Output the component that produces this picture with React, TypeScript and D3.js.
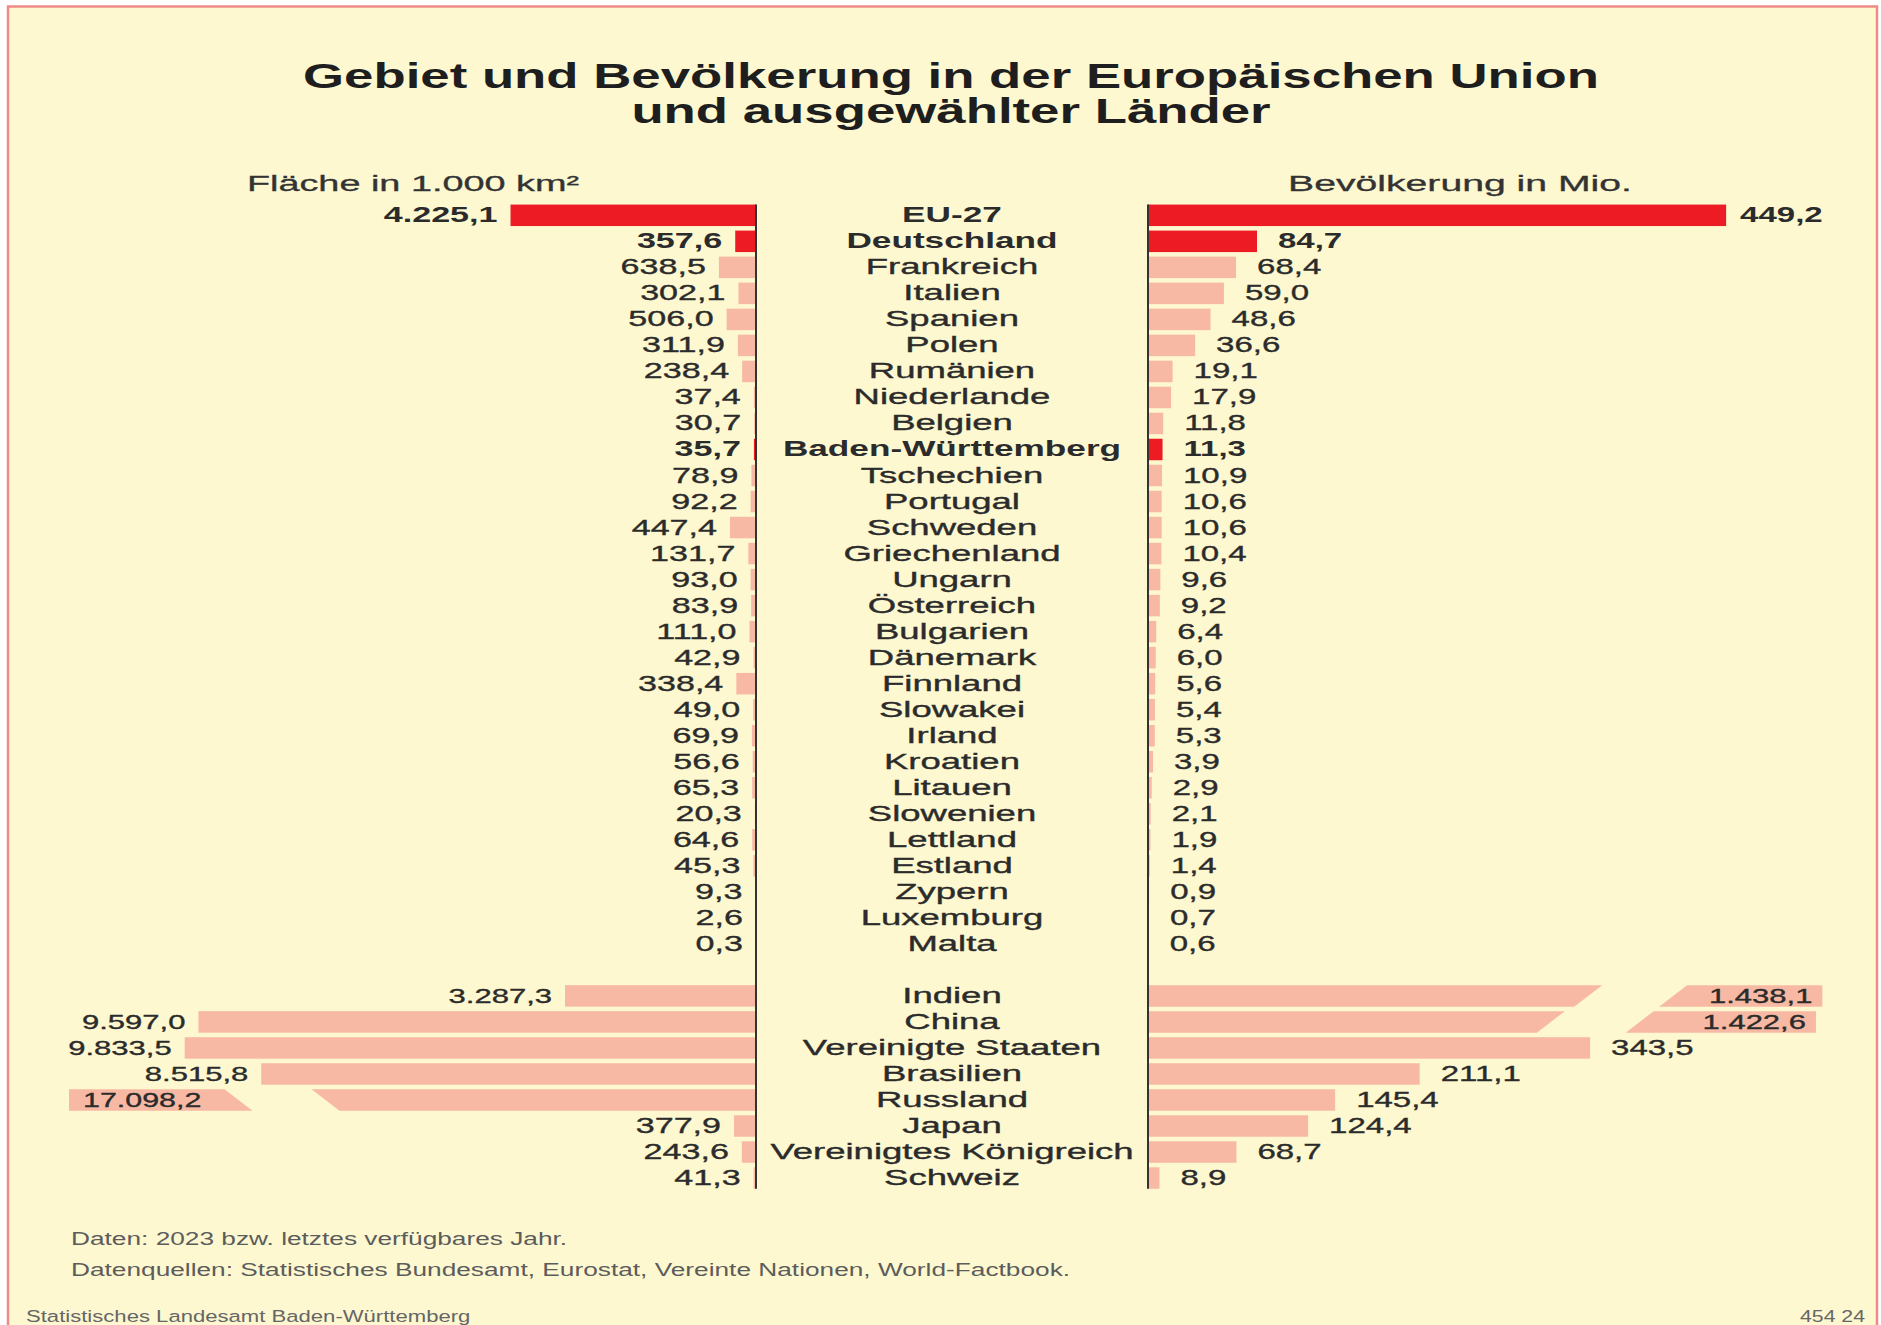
import React from "react";
import * as d3 from "d3";

// ---------------- DATA ----------------
const euCountries = [
  "EU-27", "Deutschland", "Frankreich", "Italien", "Spanien", "Polen", "Rumänien",
  "Niederlande", "Belgien", "Baden-Württemberg", "Tschechien", "Portugal", "Schweden",
  "Griechenland", "Ungarn", "Österreich", "Bulgarien", "Dänemark", "Finnland", "Slowakei",
  "Irland", "Kroatien", "Litauen", "Slowenien", "Lettland", "Estland", "Zypern",
  "Luxemburg", "Malta",
];
const euArea = [
  4225.1, 357.6, 638.5, 302.1, 506.0, 311.9, 238.4, 37.4, 30.7, 35.7, 78.9, 92.2, 447.4,
  131.7, 93.0, 83.9, 111.0, 42.9, 338.4, 49.0, 69.9, 56.6, 65.3, 20.3, 64.6, 45.3, 9.3,
  2.6, 0.3,
];
const euPopulation = [
  449.2, 84.7, 68.4, 59.0, 48.6, 36.6, 19.1, 17.9, 11.8, 11.3, 10.9, 10.6, 10.6, 10.4,
  9.6, 9.2, 6.4, 6.0, 5.6, 5.4, 5.3, 3.9, 2.9, 2.1, 1.9, 1.4, 0.9, 0.7, 0.6,
];
const worldCountries = [
  "Indien", "China", "Vereinigte Staaten", "Brasilien", "Russland", "Japan",
  "Vereinigtes Königreich", "Schweiz",
];
const worldArea = [3287.3, 9597.0, 9833.5, 8515.8, 17098.2, 377.9, 243.6, 41.3];
const worldPopulation = [1438.1, 1422.6, 343.5, 211.1, 145.4, 124.4, 68.7, 8.9];

const highlighted = ["EU-27", "Deutschland", "Baden-Württemberg"];

// broken (axis-break) bars, in data units: where the bar is cut, where it resumes, where it ends
const areaBreaks = [{ country: "Russland", cut: 7410, resume: 8907, end: 11824 }];
const populationBreaks = [
  { country: "Indien", cut: 342, resume: 408, end: 524 },
  { country: "China", cut: 313, resume: 382, end: 519 },
];

const titleLines = [
  "Gebiet und Bevölkerung in der Europäischen Union",
  "und ausgewählter Länder",
];
const areaHeader = "Fläche in 1.000 km²";
const populationHeader = "Bevölkerung in Mio.";
const footnotes = [
  "Daten: 2023 bzw. letztes verfügbares Jahr.",
  "Datenquellen: Statistisches Bundesamt, Eurostat, Vereinte Nationen, World-Factbook.",
];
const sourceLeft = "Statistisches Landesamt Baden-Württemberg";
const sourceRight = "454 24";

// ---------------- LAYOUT / STYLE ----------------
const W = 1881;
const H = 1325;
const FONT = "'Liberation Sans', Arial, Helvetica, sans-serif";
const INK = "#2b2b2b";
const RED = "#ED1C24";
const SALMON = "#F8B9A4";
const BG = "#FDF8D0";
const BORDER = "#F08A86";

const AXIS_L = 756;
const AXIS_R = 1148;
const CENTER_X = 952;
const ROW_TOP = 202.3;
const ROW_STEP = 26.02;
const SLANT = 28;

const locale = d3.formatLocale({ decimal: ",", thousands: ".", grouping: [3], currency: ["", " €"] });
const fmt = locale.format(",.1f");

type Row = { name: string; area: number; pop: number; world: boolean } | null;

export default function App() {
  const rows: Row[] = [
    ...euCountries.map((name, i) => ({ name, area: euArea[i], pop: euPopulation[i], world: false })),
    null,
    ...worldCountries.map((name, i) => ({ name, area: worldArea[i], pop: worldPopulation[i], world: true })),
  ];
  const keys = rows.map((r, i) => (r ? r.name : `gap-${i}`));

  const pad = 1 - 21.5 / ROW_STEP;
  const y = d3
    .scaleBand<string>()
    .domain(keys)
    .range([ROW_TOP, ROW_TOP + ROW_STEP * keys.length])
    .paddingInner(pad)
    .paddingOuter(pad / 2);
  const bw = y.bandwidth();

  const xArea = d3.scaleLinear().domain([0, 10000]).range([AXIS_L, AXIS_L - 581]);
  const xPop = d3.scaleLinear().domain([0, 100]).range([AXIS_R, AXIS_R + 128.7]);

  const txt = (
    s: string,
    x: number,
    yy: number,
    opts: { size?: number; bold?: boolean; anchor?: string; sx?: number; fill?: string; key?: string; thick?: number }
  ) => {
    const fill = opts.fill ?? INK;
    return (
      <text
        key={opts.key}
        transform={`translate(${x},${yy}) scale(${opts.sx ?? 1.62},1)`}
        textAnchor={opts.anchor ?? "start"}
        fontFamily={FONT}
        fontSize={opts.size ?? 22}
        fontWeight={opts.bold ? "bold" : "normal"}
        fill={fill}
        stroke={opts.thick ? fill : "none"}
        strokeWidth={opts.thick ?? 0}
      >
        {s}
      </text>
    );
  };

  const lastKey = keys[keys.length - 1];
  const axisTop = y(keys[0])!;
  const axisBottom = y(lastKey)! + bw;

  const marks: React.ReactNode[] = [];
  rows.forEach((r, i) => {
    if (!r) return;
    const top = y(keys[i])!;
    const bottom = top + bw;
    const cy = top + bw / 2;
    const base = cy + 7;
    const hl = highlighted.includes(r.name);
    const color = hl ? RED : SALMON;
    const thick = hl ? 0 : 0.35;

    // ---- left: area
    const aBreak = areaBreaks.find((b) => b.country === r.name);
    if (aBreak) {
      const xc = xArea(aBreak.cut);
      const xr = xArea(aBreak.resume);
      const xe = xArea(aBreak.end);
      const p1 = d3.path();
      p1.moveTo(AXIS_L, top);
      p1.lineTo(xc - SLANT / 2, top);
      p1.lineTo(xc + SLANT / 2, bottom);
      p1.lineTo(AXIS_L, bottom);
      p1.closePath();
      const p2 = d3.path();
      p2.moveTo(xe, top);
      p2.lineTo(xr - SLANT / 2, top);
      p2.lineTo(xr + SLANT / 2, bottom);
      p2.lineTo(xe, bottom);
      p2.closePath();
      marks.push(<path key={`a1${i}`} d={p1.toString()} fill={color} />);
      marks.push(<path key={`a2${i}`} d={p2.toString()} fill={color} />);
      marks.push(txt(fmt(r.area), xe + 14, base, { key: `al${i}`, size: 20, sx: 1.52, bold: hl, thick }));
    } else {
      const x0 = xArea(r.area);
      marks.push(<rect key={`a${i}`} x={x0} y={top} width={AXIS_L - x0} height={bw} fill={color} />);
      const numSz = r.world && r.area >= 1000 ? 20 : 22;
      marks.push(txt(fmt(r.area), x0 - 13, base, { key: `al${i}`, size: numSz, sx: 1.55, anchor: "end", bold: hl, thick }));
    }

    // ---- right: population
    const pBreak = populationBreaks.find((b) => b.country === r.name);
    if (pBreak) {
      const xc = xPop(pBreak.cut);
      const xr = xPop(pBreak.resume);
      const xe = xPop(pBreak.end);
      const p1 = d3.path();
      p1.moveTo(AXIS_R, top);
      p1.lineTo(xc + SLANT / 2, top);
      p1.lineTo(xc - SLANT / 2, bottom);
      p1.lineTo(AXIS_R, bottom);
      p1.closePath();
      const p2 = d3.path();
      p2.moveTo(xr + SLANT / 2, top);
      p2.lineTo(xe, top);
      p2.lineTo(xe, bottom);
      p2.lineTo(xr - SLANT / 2, bottom);
      p2.closePath();
      marks.push(<path key={`p1${i}`} d={p1.toString()} fill={color} />);
      marks.push(<path key={`p2${i}`} d={p2.toString()} fill={color} />);
      marks.push(txt(fmt(r.pop), xe - 10, base, { key: `pl${i}`, size: 20, sx: 1.55, anchor: "end", bold: hl, thick }));
    } else {
      const x1 = xPop(r.pop);
      marks.push(<rect key={`p${i}`} x={AXIS_R} y={top} width={x1 - AXIS_R} height={bw} fill={color} />);
      marks.push(
        txt(fmt(r.pop), x1 + (r.name === "EU-27" ? 14 : 21), base, { key: `pl${i}`, size: 22, sx: 1.5, bold: hl, thick })
      );
    }

    // ---- centre label
    marks.push(
      txt(r.name, CENTER_X, base, { key: `n${i}`, anchor: "middle", bold: hl, sx: hl ? 1.6 : 1.66, thick })
    );
  });

  return (
    <svg
      width={W}
      height={H}
      viewBox={`0 0 ${W} ${H}`}
      style={{ position: "absolute", left: 0, top: 0, display: "block", background: "#ffffff" }}
    >
      <rect x={8} y={6.5} width={1869} height={H + 20} fill={BG} stroke={BORDER} strokeWidth={2.5} />

      {titleLines.map((t, i) =>
        txt(t, CENTER_X - 1, 88 + i * 35, { key: `t${i}`, size: 34.5, bold: true, anchor: "middle", sx: 1.53, fill: "#1e1e1e" })
      )}

      {txt(areaHeader, 413, 191, { key: "ha", anchor: "middle", sx: 1.72, fill: "#333", thick: 0.3 })}
      {txt(populationHeader, 1460, 191, { key: "hp", anchor: "middle", sx: 1.78, fill: "#333", thick: 0.3 })}

      {marks}

      <line x1={AXIS_L} x2={AXIS_L} y1={axisTop} y2={axisBottom} stroke="#333" strokeWidth={2} />
      <line x1={AXIS_R} x2={AXIS_R} y1={axisTop} y2={axisBottom} stroke="#333" strokeWidth={2} />

      {footnotes.map((f, i) =>
        txt(f, 71, 1245 + i * 31, { key: `f${i}`, size: 18.5, sx: 1.42, fill: "#5c5c5c" })
      )}
      {txt(sourceLeft, 26, 1322, { key: "sl", size: 17, sx: 1.3, fill: "#666" })}
      {txt(sourceRight, 1865, 1322, { key: "sr", size: 17, sx: 1.25, anchor: "end", fill: "#666" })}
    </svg>
  );
}
